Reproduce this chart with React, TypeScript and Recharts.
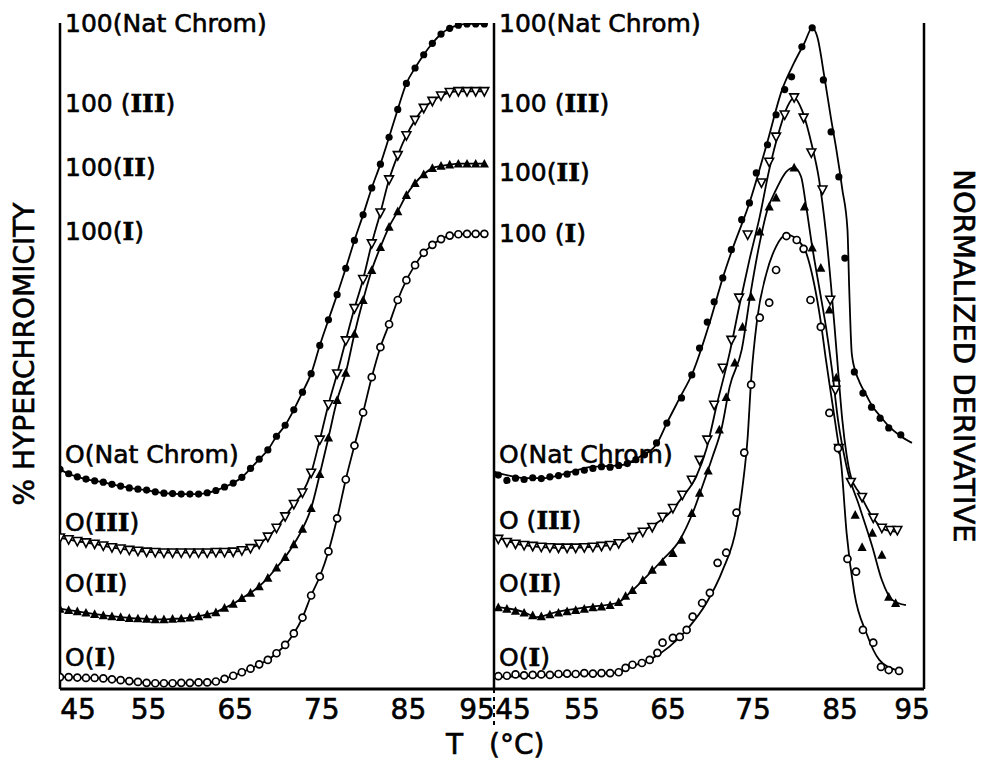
import React from 'react';
import { ComposedChart, Line, XAxis, YAxis } from 'recharts';

const FONT = '"DejaVu Sans", Verdana, sans-serif';

// ---------- left panel: melting profiles (% hyperchromicity), read every 1 °C
const meltTemps = [
  45, 46, 47, 48, 49, 50, 51, 52, 53, 54, 55, 56, 57, 58, 59, 60, 61, 62, 63, 64,
  65, 66, 67, 68, 69, 70, 71, 72, 73, 74, 75, 76, 77, 78, 79, 80, 81, 82, 83, 84,
  85, 86, 87, 88, 89, 90, 91, 92, 93, 94,
];
const meltNat = [
  -0.5, -1.5, -2.2, -2.7, -3.1, -3.4, -3.9, -4.3, -4.7, -5.0,
  -5.2, -5.6, -5.9, -6.0, -6.1, -6.1, -6.1, -5.8, -5.3, -4.5,
  -3.6, -2.3, -0.3, 1.8, 3.9, 7.0, 9.5, 13.0, 17.0, 21.2,
  27.6, 33.4, 39.1, 45.1, 51.4, 57.2, 63.3, 68.7, 74.8, 81.1,
  87.0, 90.5, 93.5, 96.1, 98.2, 99.5, 100.2, 100.5, 100.5, 100.5,
];
const meltIII = [
  -0.2, -0.6, -1.0, -1.3, -1.6, -2.0, -2.4, -2.7, -3.0, -3.2,
  -3.4, -3.5, -3.6, -3.6, -3.6, -3.6, -3.6, -3.6, -3.5, -3.5,
  -3.4, -3.1, -2.6, -1.6, 0.0, 2.0, 4.6, 7.4, 10.0, 14.5,
  22.0, 30.0, 37.0, 44.5, 51.8, 58.4, 66.5, 73.5, 81.0, 86.5,
  91.0, 94.5, 97.2, 98.8, 100.0, 100.8, 101.0, 101.0, 101.0, 101.0,
];
const meltII = [
  -0.8, -1.1, -1.4, -1.7, -2.0, -2.3, -2.5, -2.7, -2.9, -3.0,
  -3.1, -3.2, -3.2, -3.1, -3.0, -2.8, -2.5, -2.1, -1.6, -0.6,
  0.3, 1.6, 2.8, 4.3, 6.2, 8.5, 10.9, 13.8, 17.3, 22.0,
  29.7, 38.0, 46.5, 52.7, 61.5, 69.2, 76.0, 81.2, 85.8, 89.3,
  93.0, 95.7, 97.7, 99.1, 99.6, 99.9, 100.1, 100.1, 100.1, 100.1,
];
const meltI = [
  0.0, 0.0, -0.1, -0.2, -0.2, -0.3, -0.5, -0.7, -0.9, -1.1,
  -1.3, -1.4, -1.4, -1.4, -1.3, -1.3, -1.2, -1.2, -1.0, -0.4,
  0.3, 1.1, 1.9, 2.9, 3.9, 5.4, 7.3, 9.9, 13.5, 18.5,
  22.8, 28.5, 36.0, 44.8, 52.5, 60.0, 68.0, 74.8, 80.0, 85.5,
  90.0, 93.4, 96.2, 98.0, 99.3, 100.1, 100.4, 100.5, 100.5, 100.5,
];
// where each profile's 0 sits on the stacked axis
const meltBase = { nat: 50.3, iii: 34.5, ii: 19.0, i: 2.7 };

// ---------- right panel: normalized derivative, [T, %]
const derivNatFit = [
  [45, -0.8], [46.9, -1.8], [48.6, -2.3], [50.7, -2.3], [52.7, -1.6], [56.1, 0.2], [60, 0.7],
  [61.9, 2.5], [63.9, 5.4], [65.1, 10.2], [66.6, 15.9], [68.1, 21.6], [70.1, 33.1], [71.6, 43.1],
  [72.7, 49.5], [74.7, 60.1], [76.7, 73.3], [78.5, 85.8], [79.9, 91.9], [81.1, 96.4], [82, 99.8],
  [82.6, 97.7], [83.4, 88.9], [84.2, 79.1], [84.8, 72.3], [85.5, 63.2], [86.1, 54.1], [86.3, 41],
  [86.6, 26], [87.1, 21.5], [87.5, 19.5], [88.3, 16.5], [89, 14], [89.8, 12], [90.9, 9.5],
  [92.1, 7.5], [93.6, 5.7],
];
const derivNatPts = [
  [45.5, -1.6], [46.5, -2.8], [47.5, -2.3], [48.5, -2.6], [49.5, -2.2], [50.5, -2.4], [51.5, -2.0],
  [52.5, -1.7], [53.5, -1.4], [54.5, -0.9], [55.5, -0.5], [56.5, -0.1], [57.5, 0.3], [58.5, 0.2],
  [59.5, 0.6], [60.5, 1.0], [61.5, 1.9], [62.5, 3.0], [63.9, 5.7], [65.1, 10.2], [66.8, 15.9],
  [68, 21.1], [68.9, 27.2], [69.8, 33.1], [70.6, 37.7], [71.6, 43.1], [72.6, 49.5], [73.8, 56.3],
  [74.7, 60.1], [75.5, 66.9], [76.8, 73.3], [77.8, 80.1], [78.8, 85.8], [79.6, 88.7], [80.8, 95.5],
  [82, 99.8], [83.3, 88], [84.2, 76.2], [85.1, 66], [85.8, 47.6], [86.9, 21.8], [87.9, 17],
  [88.9, 13.8], [89.9, 11.3], [90.9, 9.1], [92.3, 7.5],
];
const derivIIIFit = [
  [45.3, -0.5], [48.4, -2.3], [52.3, -2.9], [56.1, -2.7], [59.6, -1.8], [61.1, 0], [63.1, 1.8],
  [65.4, 5], [66.9, 8.6], [68.5, 13.2], [69.7, 19.5], [70.9, 29.5], [72.4, 41.3], [73.5, 51.7],
  [74.7, 62.4], [75.9, 72.2], [77, 82.8], [78.2, 91.9], [79.1, 97.1], [79.9, 99.2], [80.8, 96.4],
  [81.9, 88.9], [82.8, 80.6], [83.6, 68.5], [84.2, 56.3], [84.6, 47.2], [85.1, 35.2], [85.5, 26.1],
  [86, 18.2], [86.5, 13.2], [87.5, 9.5], [89, 4.1], [90.6, 1.1], [92.1, 0.7],
];
const derivIIIPts = [
  [45.5, -0.9], [46.5, -1.6], [47.5, -2.0], [48.5, -2.3], [49.5, -2.5], [50.5, -2.7], [51.5, -2.8],
  [52.5, -2.9], [53.5, -2.9], [54.5, -2.9], [55.5, -2.8], [56.5, -2.7], [57.5, -2.5], [58.5, -2.3],
  [59.5, -1.9], [61.1, -0.5], [62.3, 0.7], [63.4, 1.8], [64.6, 4.1], [65.8, 6.1], [66.9, 9.1],
  [68, 12.5], [68.9, 17], [69.8, 21.6], [70.6, 29.5], [71.6, 37.9], [72.6, 44.2], [73.5, 53.8],
  [74.5, 68.1], [76.1, 79.9], [77, 84.6], [77.8, 90.3], [78.8, 95.3], [79.9, 99.2], [81, 94.6],
  [81.9, 86.7], [83.2, 78.3], [84.1, 53.3], [84.7, 32.9], [85.1, 19.7], [86.5, 12], [87.8, 8.6],
  [89.1, 3.9], [90.1, 1.6], [91.1, 1.1], [91.9, 1.1],
];
const derivIIFit = [
  [45.3, -0.9], [48.4, -2], [50, -3.2], [52.3, -2], [56.1, -0.9], [59.3, 0], [60.8, 2.3],
  [62.7, 5.9], [64.6, 9.8], [66.6, 14.3], [68.1, 20.4], [69.2, 26.3], [70.4, 33.1], [71.5, 39.9],
  [72.4, 49], [73.8, 57.4], [74.9, 71], [75.9, 81.7], [76.8, 89.2], [77.8, 93.7], [79, 97.8],
  [79.9, 98.7], [80.7, 96.7], [81.3, 89.9], [82, 80.8], [82.8, 71.7], [83.6, 62.6], [84.3, 52.9],
  [85, 41.5], [86, 30.9], [87.5, 21.8], [89, 12.7], [90.1, 5.2], [91.3, 0.7], [92.9, -0.5],
];
const derivIIPts = [
  [45.5, -1.0], [46.5, -1.3], [47.5, -1.8], [48.5, -2.2], [49.5, -2.8], [50.5, -3.0], [51.5, -2.6],
  [52.5, -2.2], [53.5, -1.9], [54.5, -1.6], [55.5, -1.3], [56.5, -1.0], [57.5, -0.8], [58.5, -0.5],
  [59.5, 0.2], [60.3, 1.6], [61.1, 2.9], [62.3, 5.2], [63.4, 7.5], [64.6, 9.3], [65.8, 11.3],
  [66.8, 14.3], [68, 20.4], [68.9, 25], [69.9, 30], [71.2, 39.3], [72, 46.7], [73, 54.5],
  [73.9, 62.6], [74.9, 69.4], [75.9, 84.2], [77, 89.9], [77.8, 91.9], [79.9, 98.7], [81.1, 89.9],
  [82, 80.6], [83, 76], [84, 66.5], [84.8, 51.1], [87, 20], [87.8, 12.7], [89, 15.9],
  [90.1, 10.9], [90.9, 1.4], [91.7, 0],
];
const derivIFit = [
  [45.3, -0.5], [52.3, 0], [59.3, 0.5], [60.8, 1.8], [63.1, 3.4], [65.4, 6.4], [67.7, 10.9],
  [69.7, 16.3], [71.6, 23.8], [73.2, 33.6], [73.9, 42.7], [74.5, 54], [74.9, 66.9], [75.6, 80.6],
  [76.7, 91.2], [77.8, 97.1], [79, 99.8], [80.3, 98.6], [81.3, 95.7], [82.2, 88.9], [83, 80],
  [83.6, 71.4], [84.2, 63.5], [84.8, 55.6], [85.4, 47.2], [86, 32.2], [86.9, 18.6], [88.3, 9.5],
  [89.8, 3.4], [91.8, 1.1],
];
const derivIPts = [
  [45.5, -0.3], [46.5, -0.2], [47.5, 0.1], [48.5, -0.1], [49.5, 0.0], [50.5, 0.1], [51.5, 0.0],
  [52.5, 0.2], [53.5, 0.3], [54.5, 0.2], [55.5, 0.4], [56.5, 0.3], [57.5, 0.4], [58.5, 0.4],
  [59.5, 0.6], [60.3, 1.6], [61.1, 2.3], [62.2, 2.7], [63.1, 3.4], [64, 5], [64.6, 7.3],
  [65.8, 8.4], [66.6, 8.6], [67.4, 10.2], [68.1, 13.2], [69.2, 16.3], [70.1, 18.6], [71, 25.4],
  [72, 27.7], [73.2, 36.8], [74.1, 50.4], [74.9, 65.8], [75.9, 81], [77, 84.4], [77.8, 91.8],
  [79, 99.5], [80.2, 98.6], [81, 96.6], [81.8, 85], [83, 78.9], [84, 59.4], [85, 51.4],
  [86.1, 26.3], [87.1, 23.4], [87.9, 10.2], [89.1, 7.3], [90, 1.8], [90.9, 1.1], [92.1, 0.9],
];
const derivBase = { nat: 50.1, iii: 34.9, ii: 19.5, i: 3.2 };

// ---------- axes / labels
const xTicks = [45, 55, 65, 75, 85, 95];
const meltLabels = [
  { v: 151, text: '100(Nat Chrom)' },
  { v: 132.9, text: '100 (III)' },
  { v: 118.4, text: '100(II)' },
  { v: 103.9, text: '100(I)' },
  { v: 53.1, text: 'O(Nat Chrom)' },
  { v: 37.9, text: 'O(III)' },
  { v: 24.0, text: 'O(II)' },
  { v: 7.3, text: 'O(I)' },
];
const derivLabels = [
  { v: 151, text: '100(Nat Chrom)' },
  { v: 132.9, text: '100 (III)' },
  { v: 117.2, text: '100(II)' },
  { v: 103.4, text: '100 (I)' },
  { v: 53.1, text: 'O(Nat Chrom)' },
  { v: 38.3, text: 'O (III)' },
  { v: 24.0, text: 'O(II)' },
  { v: 7.3, text: 'O(I)' },
];
const derivRightTicks = [150.6, 132.9, 117.7, 101.8];

const Y_DOMAIN = [0, 151];

const stack = (ts: number[], vs: number[], base: number) => ts.map((t, i) => ({ t, v: base + vs[i] }));
const stackPairs = (pairs: number[][], base: number) => pairs.map(([t, p]) => ({ t, v: base + p }));

type Shape = 'dot' | 'ring' | 'down' | 'up';
const mark = (shape: Shape) => (p: any) => {
  const { cx, cy, index } = p;
  const k = `${shape}-${index}`;
  if (cx == null || cy == null) return <g key={k} />;
  if (shape === 'dot') return <circle key={k} cx={cx} cy={cy} r={3.6} fill="#000" />;
  if (shape === 'ring')
    return <circle key={k} cx={cx} cy={cy} r={3.5} fill="#fff" stroke="#000" strokeWidth={1.7} />;
  if (shape === 'down')
    return (
      <path key={k} d={`M${cx - 4.4},${cy - 3.7}L${cx + 4.4},${cy - 3.7}L${cx},${cy + 4.6}Z`}
        fill="#fff" stroke="#000" strokeWidth={1.6} />
    );
  return <path key={k} d={`M${cx - 4.6},${cy + 3.9}L${cx + 4.6},${cy + 3.9}L${cx},${cy - 4.8}Z`} fill="#000" />;
};

const TEXT_INK = { fill: '#000', stroke: '#000', strokeWidth: 0.6 };

const labelTick = (labels: { v: number; text: string }[]) => (p: any) => {
  const lab = labels.find((l) => Math.abs(l.v - p.payload.value) < 1e-6);
  if (!lab) return <g />;
  const m = lab.text.match(/^(.*?)(I+)(\).*)$/);
  return (
    <text x={p.x + 5} y={p.y} fontSize={25} fontFamily={FONT} {...TEXT_INK} dominantBaseline="central">
      {m ? (
        <>
          <tspan>{m[1]}</tspan>
          <tspan fontFamily='"DejaVu Serif", serif' fontWeight="bold">{m[2]}</tspan>
          <tspan>{m[3]}</tspan>
        </>
      ) : (
        lab.text
      )}
    </text>
  );
};

const xTick = (shift: Record<number, number>, dashAt?: number) => (p: any) => {
  const v = p.payload.value;
  return (
    <g>
      {v === dashAt && (
        <line x1={p.x} x2={p.x} y1={p.y} y2={p.y + 40} stroke="#000" strokeWidth={2} strokeDasharray="4 4" />
      )}
      <text x={p.x + (shift[v] ?? 2)} y={p.y + 20} textAnchor="middle" dominantBaseline="central"
        fontSize={28} fontFamily={FONT} {...TEXT_INK}>
        {v}
      </text>
    </g>
  );
};

const titleStyle: React.CSSProperties = {
  position: 'absolute', whiteSpace: 'nowrap', lineHeight: 1, WebkitTextStroke: '0.6px #000',
};

export default function App() {
  const fit = { stroke: '#000', strokeWidth: 1.8, type: 'monotone' as const, dot: false, activeDot: false, isAnimationActive: false };
  const pts = { stroke: 'none', activeDot: false, isAnimationActive: false };

  return (
    <div style={{ position: 'absolute', left: 0, top: 0, width: 985, height: 763, background: '#fff', fontFamily: FONT }}>
      <div style={{ position: 'absolute', left: 0, top: 0 }}>
        <ComposedChart width={494} height={763} margin={{ top: 23, right: 1, bottom: 44, left: 0 }}>
          <XAxis dataKey="t" type="number" domain={[45, 95]} ticks={xTicks} interval={0}
            axisLine={{ stroke: '#000', strokeWidth: 3 }} tickLine={false} tickSize={0} tickMargin={0}
            tick={xTick({ 45: 18, 95: -16 })} height={30} allowDataOverflow />
          <YAxis type="number" domain={Y_DOMAIN} ticks={meltLabels.map((l) => l.v)} interval={0} width={60}
            axisLine={{ stroke: '#000', strokeWidth: 2.5 }} tickLine={false} tickSize={0} tickMargin={0}
            tick={labelTick(meltLabels)} allowDataOverflow />
          <Line data={stack(meltTemps, meltNat, meltBase.nat)} dataKey="v" {...fit} dot={mark('dot')} />
          <Line data={stack(meltTemps, meltIII, meltBase.iii)} dataKey="v" {...fit} dot={mark('down')} />
          <Line data={stack(meltTemps, meltII, meltBase.ii)} dataKey="v" {...fit} dot={mark('up')} />
          <Line data={stack(meltTemps, meltI, meltBase.i)} dataKey="v" {...fit} dot={mark('ring')} />
        </ComposedChart>
      </div>

      <div style={{ position: 'absolute', left: 434, top: 0 }}>
        <ComposedChart width={551} height={763} margin={{ top: 23, right: 61, bottom: 44, left: 0 }}>
          <XAxis dataKey="t" type="number" domain={[45, 95]} ticks={xTicks} interval={0}
            axisLine={{ stroke: '#000', strokeWidth: 3 }} tickLine={false} tickSize={0} tickMargin={0}
            tick={xTick({ 45: 19, 75: 1, 95: -12 }, 45)} height={30} allowDataOverflow />
          <YAxis yAxisId="l" type="number" domain={Y_DOMAIN} ticks={derivLabels.map((l) => l.v)} interval={0}
            width={60} axisLine={{ stroke: '#000', strokeWidth: 2.5 }} tickLine={false} tickSize={0}
            tickMargin={0} tick={labelTick(derivLabels)} allowDataOverflow />
          <YAxis yAxisId="r" orientation="right" mirror type="number" domain={Y_DOMAIN} ticks={derivRightTicks}
            interval={0} width={1} axisLine={{ stroke: '#000', strokeWidth: 2.5 }}
            tickLine={{ stroke: '#000', strokeWidth: 2 }} tickSize={8} tick={false} allowDataOverflow />
          <Line yAxisId="l" data={stackPairs(derivNatFit, derivBase.nat)} dataKey="v" {...fit} />
          <Line yAxisId="l" data={stackPairs(derivIIIFit, derivBase.iii)} dataKey="v" {...fit} />
          <Line yAxisId="l" data={stackPairs(derivIIFit, derivBase.ii)} dataKey="v" {...fit} />
          <Line yAxisId="l" data={stackPairs(derivIFit, derivBase.i)} dataKey="v" {...fit} />
          <Line yAxisId="l" data={stackPairs(derivNatPts, derivBase.nat)} dataKey="v" {...pts} dot={mark('dot')} />
          <Line yAxisId="l" data={stackPairs(derivIIIPts, derivBase.iii)} dataKey="v" {...pts} dot={mark('down')} />
          <Line yAxisId="l" data={stackPairs(derivIIPts, derivBase.ii)} dataKey="v" {...pts} dot={mark('up')} />
          <Line yAxisId="l" data={stackPairs(derivIPts, derivBase.i)} dataKey="v" {...pts} dot={mark('ring')} />
        </ComposedChart>
      </div>

      <div style={{ ...titleStyle, left: 25, top: 354, fontSize: 28, transform: 'translate(-50%, -50%) rotate(-90deg)' }}>
        % HYPERCHROMICITY
      </div>
      <div style={{ ...titleStyle, left: 963, top: 356, fontSize: 29, transform: 'translate(-50%, -50%) rotate(90deg)' }}>
        NORMALIZED DERIVATIVE
      </div>
      <div style={{ ...titleStyle, left: 446, top: 731, fontSize: 28 }}>T</div>
      <div style={{ ...titleStyle, left: 489, top: 731, fontSize: 28 }}>(°C)</div>
    </div>
  );
}
